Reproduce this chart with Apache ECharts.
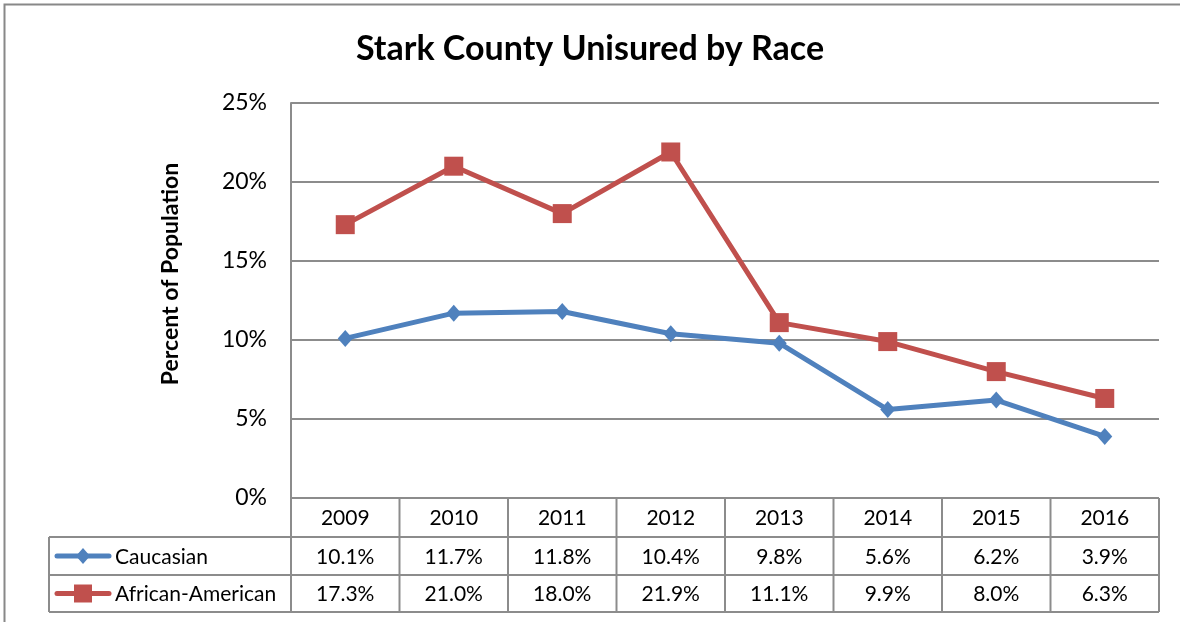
<!DOCTYPE html>
<html>
<head>
<meta charset="utf-8">
<script src="https://cdn.jsdelivr.net/npm/echarts@6/dist/echarts.min.js"></script>
<style>
html,body{margin:0;padding:0;background:#fff;}
#c{width:1180px;height:622px;}
</style>
</head>
<body>
<div id="c"></div>
<script>
const years = ['2009','2010','2011','2012','2013','2014','2015','2016'];
const caucasian = [10.1, 11.7, 11.8, 10.4, 9.8, 5.6, 6.2, 3.9];
const africanAmerican = [17.3, 21.0, 18.0, 21.9, 11.1, 9.9, 8.0, 6.3];
const yTicks = [0, 5, 10, 15, 20, 25];
const seriesNames = ['Caucasian', 'African-American'];

const FONT = 'Lato, "Open Sans", sans-serif';
const BLUE = '#4F81BD', RED = '#C0504D', GRID = '#8c8c8c';
const L = 291, R = 1159, T = 103, B = 498;
const rowH = [498, 537, 575, 612];

const chart = echarts.init(document.getElementById('c'), null, {renderer: 'canvas'});
chart.setOption({
  backgroundColor: '#fff',
  animation: false,
  title: {
    text: 'Stark County Unisured by Race',
    left: 'center', top: 27,
    textStyle: {fontFamily: FONT, fontWeight: 'bold', fontSize: 34, color: '#000'}
  },
  grid: {left: L, right: 1180 - R, top: T, bottom: 622 - B, containLabel: false},
  legend: {show: false, data: seriesNames},
  xAxis: {
    type: 'category', data: years, boundaryGap: true,
    axisLine: {show: false}, axisTick: {show: false},
    axisLabel: {fontFamily: FONT, fontSize: 21, color: '#000', margin: 10, interval: 0}
  },
  yAxis: {
    type: 'value', min: yTicks[0], max: yTicks[yTicks.length - 1], interval: 5,
    axisLine: {show: true, lineStyle: {color: GRID, width: 2}},
    axisTick: {show: false},
    splitLine: {lineStyle: {color: GRID, width: 2}},
    axisLabel: {fontFamily: FONT, fontSize: 23, color: '#000', margin: 24, formatter: '{value}%'}
  },
  series: [
    {
      name: seriesNames[0], type: 'line', data: caucasian,
      symbol: 'diamond', symbolSize: [15, 17],
      lineStyle: {color: BLUE, width: 5},
      itemStyle: {color: BLUE},
      z: 3
    },
    {
      name: seriesNames[1], type: 'line', data: africanAmerican,
      symbol: 'rect', symbolSize: 19,
      lineStyle: {color: RED, width: 5},
      itemStyle: {color: RED},
      z: 4
    }
  ]
});

const els = [];
els.push({type: 'rect', shape: {x: 4.5, y: 4.5, width: 1200, height: 700}, style: {fill: null, stroke: '#888', lineWidth: 2}, silent: true});
els.push({
  type: 'text', x: 171, y: 274, rotation: Math.PI / 2,
  style: {text: 'Percent of Population', fontFamily: FONT, fontWeight: 'bold', fontSize: 23, fill: '#000', align: 'center', verticalAlign: 'middle'}
});
const line = (x1, y1, x2, y2) => els.push({type: 'line', shape: {x1, y1, x2, y2}, style: {stroke: GRID, lineWidth: 2}, silent: true});
line(L, rowH[1], R, rowH[1]);
line(49, rowH[1], L, rowH[1]);
line(49, rowH[2], R, rowH[2]);
line(49, rowH[3], R, rowH[3]);
line(49, rowH[1], 49, rowH[3]);
const step = (R - L) / years.length;
for (let i = 0; i <= years.length; i++) {
  const x = L + i * step;
  line(x, rowH[0], x, rowH[3]);
}
// legend keys inside table
const rows = [caucasian, africanAmerican];
const colors = [BLUE, RED];
rows.forEach((arr, r) => {
  const cy = (rowH[r + 1] + rowH[r + 2]) / 2;
  els.push({type: 'line', shape: {x1: 57, y1: cy, x2: 109, y2: cy}, style: {stroke: colors[r], lineWidth: 5, lineCap: 'round'}});
  if (r === 0) {
    els.push({type: 'polygon', shape: {points: [[83, cy - 8], [90, cy], [83, cy + 8], [76, cy]]}, style: {fill: BLUE}});
  } else {
    els.push({type: 'rect', shape: {x: 74, y: cy - 9, width: 18, height: 18}, style: {fill: RED}});
  }
  els.push({type: 'text', x: 115, y: cy + 1, style: {text: seriesNames[r], fontFamily: FONT, fontSize: 21, fill: '#000', align: 'left', verticalAlign: 'middle'}});
  arr.forEach((v, i) => {
    const px = chart.convertToPixel({xAxisIndex: 0}, years[i]);
    els.push({
      type: 'text', x: px, y: cy + 1,
      style: {text: v.toFixed(1) + '%', fontFamily: FONT, fontSize: 21, fill: '#000', align: 'center', verticalAlign: 'middle'}
    });
  });
});
chart.setOption({graphic: {elements: els}});
</script>
</body>
</html>
